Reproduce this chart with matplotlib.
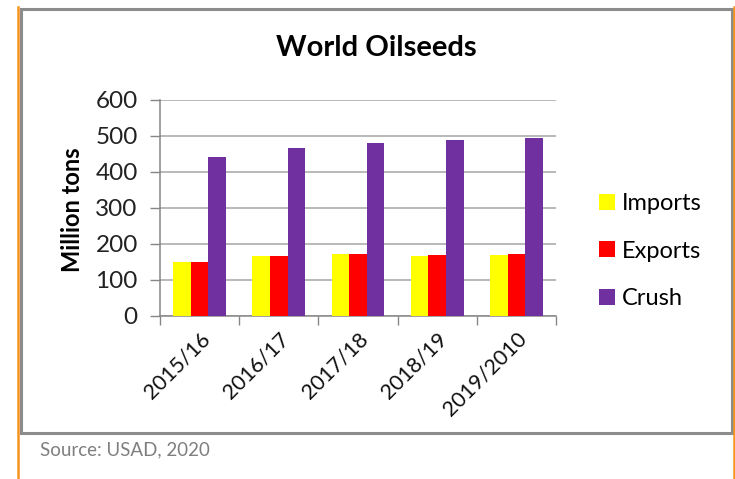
import matplotlib
matplotlib.use("Agg")
import matplotlib.pyplot as plt
import numpy as np
from matplotlib.patches import Rectangle
from matplotlib.lines import Line2D

plt.rcParams['font.family'] = ['Lato', 'DejaVu Sans']

categories = ["2015/16", "2016/17", "2017/18", "2018/19", "2019/2010"]
imports = [151, 166, 172, 166, 170]
exports = [151, 166, 173, 170, 173]
crush = [441, 466, 481, 488, 494]
series_names = ["Imports", "Exports", "Crush"]
series_colors = ["#FFFF00", "#FF0000", "#7030A0"]
yticks = [0, 100, 200, 300, 400, 500, 600]

W, H = 735, 479
fig = plt.figure(figsize=(W / 100, H / 100), dpi=100)

def fx(px):
    return px / W

def fy(py):
    return 1 - py / H

# outer decoration: orange side lines, grey chart frame
fig.add_artist(Line2D([fx(18), fx(18)], [fy(7), fy(479)], color="#F7941D", lw=1.8, transform=fig.transFigure))
fig.add_artist(Line2D([fx(734), fx(734)], [fy(7), fy(479)], color="#F7941D", lw=1.8, transform=fig.transFigure))
fig.add_artist(Rectangle((fx(20.5), fy(432.5)), fx(731.5) - fx(20.5), fy(8.5) - fy(432.5),
                         fill=False, edgecolor="#8C8C8C", lw=2.2, transform=fig.transFigure))

ax = fig.add_axes([fx(160), fy(316), fx(556) - fx(160), fy(100) - fy(316)])

x = np.arange(len(categories))
bw = 0.222
for i, (vals, name, col) in enumerate(zip([imports, exports, crush], series_names, series_colors)):
    ax.bar(x + (i - 1) * bw, vals, width=bw, color=col, label=name, zorder=3)

ax.set_xlim(-0.5, len(categories) - 0.5)
ax.set_ylim(0, 600)
ax.set_yticks(yticks)
ax.set_yticklabels([str(t) for t in yticks], fontsize=17.5, color="#222222")
ax.yaxis.grid(True, color="#A6A6A6", lw=1.1, zorder=0)
ax.set_axisbelow(True)

ax.set_xticks(np.arange(-0.5, len(categories), 1.0))
ax.set_xticklabels([])
ax.set_xticks(x, minor=True)
ax.set_xticklabels(categories, minor=True, rotation=45, ha="right", rotation_mode="anchor",
                   fontsize=15.5, color="#111111")
ax.tick_params(axis="x", which="minor", length=0, pad=9)
ax.tick_params(axis="x", which="major", length=6.5, color="#868686", width=1)
ax.tick_params(axis="y", length=7, color="#868686", width=1, pad=9)

for s in ["top", "right"]:
    ax.spines[s].set_visible(False)
for s in ["left", "bottom"]:
    ax.spines[s].set_color("#868686")
    ax.spines[s].set_linewidth(1.1)

fig.text(fx(72), fy(210), "Million tons", fontsize=17, fontweight="bold", rotation=90,
         ha="center", va="center")

fig.text(fx(376), fy(48), "World Oilseeds", fontsize=21, fontweight="bold", ha="center", va="center")

leg = ax.legend(loc="center left", bbox_to_anchor=(fx(599), fy(251)), bbox_transform=fig.transFigure,
                frameon=False, fontsize=17, handlelength=0.68, handleheight=0.68, handletextpad=0.3,
                labelspacing=1.12, borderpad=0, borderaxespad=0)

fig.text(fx(40), fy(450), "Source: USAD, 2020", fontsize=13.5, color="#7F7F7F", ha="left", va="center")

fig.savefig("out.png", dpi=100)
